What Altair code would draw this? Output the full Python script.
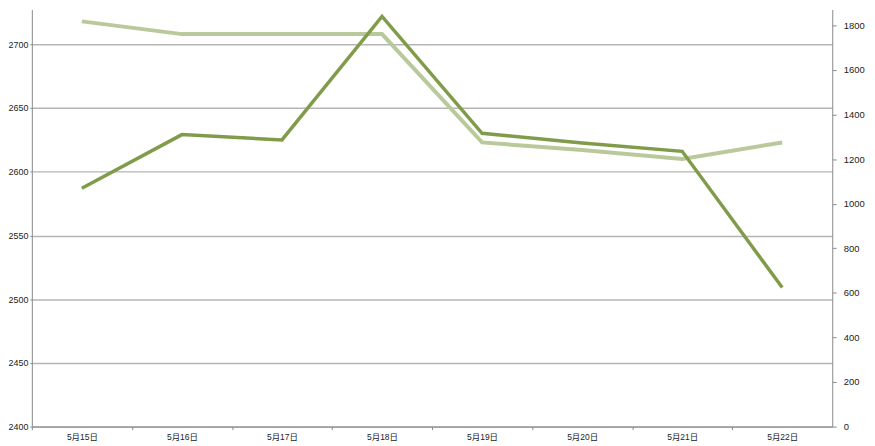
import altair as alt
import pandas as pd

dates = ["5月15日", "5月16日", "5月17日", "5月18日", "5月19日", "5月20日", "5月21日", "5月22日"]
left_values = [2718, 2708, 2708, 2708, 2623, 2617, 2610, 2623]
right_values = [1069, 1310, 1286, 1840, 1316, 1272, 1235, 624]
left_ticks = [2400, 2450, 2500, 2550, 2600, 2650, 2700]
right_ticks = [0, 200, 400, 600, 800, 1000, 1200, 1400, 1600, 1800]

df = pd.DataFrame({"date": dates, "left": left_values, "right": right_values})

FONT = "Liberation Sans, Noto Sans CJK SC"
AXIS_GRAY = "#8a8a8a"

x = alt.X(
    "date:N",
    sort=dates,
    title=None,
    scale=alt.Scale(type="point", padding=0.5),
    axis=alt.Axis(
        labelAngle=0,
        tickOffset=-50.375,
        labelOffset=50.375,
        tickSize=3,
        tickColor=AXIS_GRAY,
        domainColor=AXIS_GRAY,
        labelFont=FONT,
        labelFontSize=8.5,
        labelColor="#222222",
        labelPadding=3,
        grid=False,
    ),
)

light = alt.Chart(df).mark_line(color="#bac99c", strokeWidth=4).encode(
    x=x,
    y=alt.Y(
        "left:Q",
        title=None,
        scale=alt.Scale(domain=[2400, 2727.3], nice=False, zero=False),
        axis=alt.Axis(
            orient="left",
            values=left_ticks,
            format="d",
            grid=True,
            gridColor="#b5b5b5",
            gridWidth=1.5,
            tickSize=2,
            tickColor=AXIS_GRAY,
            domainColor=AXIS_GRAY,
            labelFont=FONT,
            labelFontSize=9,
            labelColor="#222222",
            labelPadding=2,
        ),
    ),
)

dark = alt.Chart(df).mark_line(color="#809c4a", strokeWidth=3.5).encode(
    x=x,
    y=alt.Y(
        "right:Q",
        title=None,
        scale=alt.Scale(domain=[0, 1871.3], nice=False),
        axis=alt.Axis(
            orient="right",
            values=right_ticks,
            format="d",
            grid=False,
            tickSize=4,
            tickColor=AXIS_GRAY,
            domainColor=AXIS_GRAY,
            labelFont=FONT,
            labelFontSize=9.5,
            labelColor="#222222",
            labelPadding=7,
        ),
    ),
)

chart = (
    alt.layer(light, dark)
    .resolve_scale(y="independent")
    .properties(
        width=806,
        height=420,
        autosize=alt.AutoSizeParams(type="none"),
        padding={"left": 24, "top": 0, "right": 35, "bottom": 16},
        background="white",
    )
    .configure_view(stroke=None)
)

chart.save("out.html", embed_options={"renderer": "svg", "actions": False})
